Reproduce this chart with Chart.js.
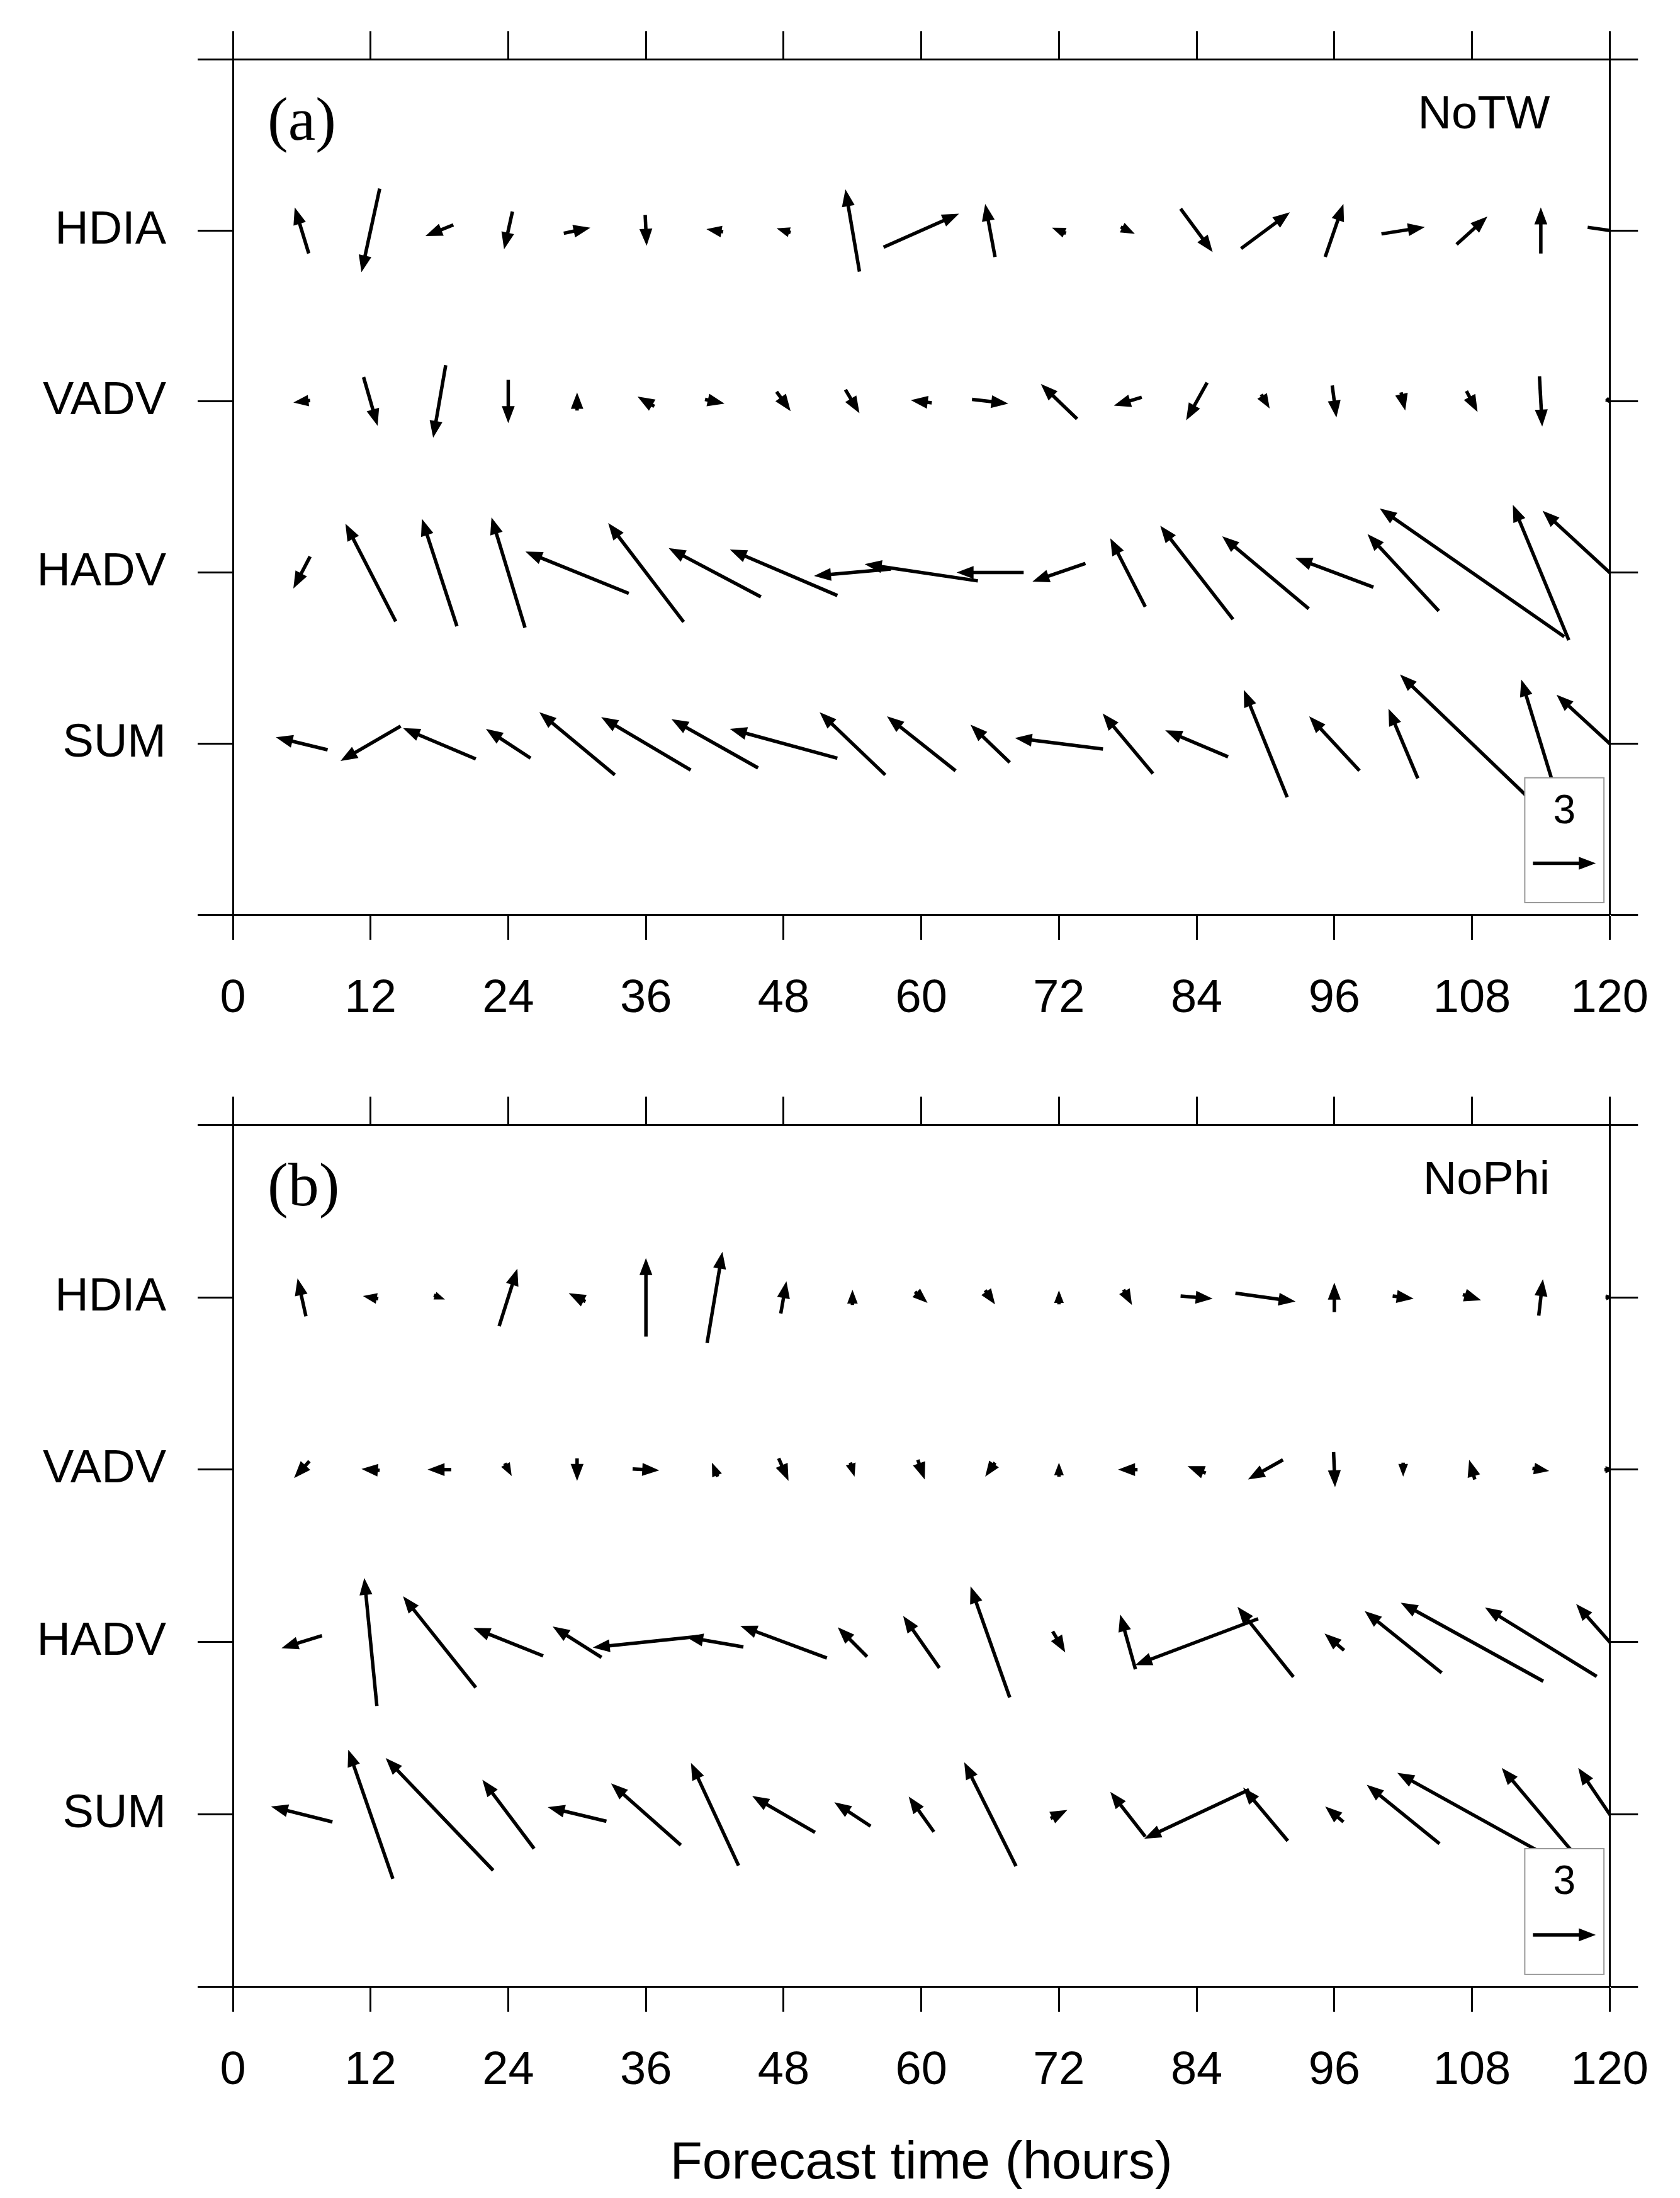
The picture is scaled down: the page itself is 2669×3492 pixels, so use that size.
<!DOCTYPE html>
<html><head><meta charset="utf-8">
<script src="https://cdn.jsdelivr.net/npm/chart.js@4.4.0/dist/chart.umd.min.js"></script>
<style>body{margin:0;background:#fff;width:2669px;height:3492px;overflow:hidden}
.c{position:absolute;left:0;width:2669px}</style></head><body>
<div class="c" style="top:0;height:1693px"><canvas id="a"></canvas></div>
<div class="c" style="top:1693px;height:1799px"><canvas id="b"></canvas></div>
<script>
const times=[6,12,18,24,30,36,42,48,54,60,66,72,78,84,90,96,102,108,114,120];
const rows=['SUM','HADV','VADV','HDIA'];
const xTicks=[0,12,24,36,48,60,72,84,96,108,120];
// panel (a) NoTW : u,v per term
const aHDIA_u=[-0.67,-0.87,-1.33,-0.4,1.27,0.07,-0.8,-0.67,-0.67,3.6,-0.47,-0.67,0.67,1.53,2.33,0.87,2.07,1.47,0,2.1];
const aHDIA_v=[2.2,-4,-0.53,-1.8,0.27,-1.47,0.13,0.2,3.93,1.6,2.53,0.27,-0.33,-2.07,1.73,2.53,0.33,1.33,2.2,-0.3];
const aVADV_u=[-0.8,0.67,-0.6,0,0,-0.8,0.93,0.67,0.67,-1.0,1.73,-1.73,-1.33,-1.0,0.4,0.2,0.2,0.53,0.13,0.3];
const aVADV_v=[-0.1,-2.33,-3.47,-2.07,0.87,0.47,-0.2,-0.93,-1.13,0.13,-0.2,1.67,-0.4,-1.8,-0.67,-1.53,-0.87,-1.0,-2.4,-0.3];
const aHADV_u=[-0.8,-2.4,-1.67,-1.6,-4.93,-3.6,-4.4,-5.13,-3.67,-5.4,-3.2,-2.53,-1.67,-3.47,-4.13,-3.73,-3.4,-8.8,-2.67,-6.4];
const aHADV_v=[-1.53,4.67,5.13,5.27,2.0,4.73,2.33,2.2,-0.33,0.8,0,-0.87,3.27,4.47,3.47,1.4,3.67,6.13,6.47,5.9];
const aSUM_u=[-2.47,-2.87,-3.47,-2.13,-3.6,-4.27,-4.13,-5.13,-3.13,-3.27,-1.87,-4.2,-2.4,-3.0,-2.07,-2.4,-1.4,-6.87,-1.87,-5.07];
const aSUM_v=[0.6,-1.67,1.47,1.4,3.0,2.53,2.33,1.4,3.0,2.6,1.8,0.53,2.87,1.27,5.13,2.6,3.33,6.6,6.13,4.67];
// panel (b) NoPhi
const bHDIA_u=[-0.4,-0.73,0.53,0.87,-0.8,0,0.73,0.27,0,0.6,0.47,0,0.4,1.53,2.87,0,1.0,0.87,0.2,0.4];
const bHDIA_v=[1.8,0.13,-0.2,2.73,0.4,3.73,4.33,1.53,0.73,-0.53,-0.67,0.67,-0.73,-0.13,-0.4,1.4,-0.13,-0.27,1.73,0];
const bVADV_u=[-0.73,-0.87,-1.13,0.33,0,1.27,-0.27,0.47,0.2,0.33,-0.47,0,-0.93,-0.87,-1.67,0.07,0,-0.27,0.8,0.5];
const bVADV_v=[-0.8,0.07,0,-0.6,-1.07,-0.07,0.67,-1.07,-0.67,-0.93,-0.67,0.67,0,0.33,-0.93,-1.67,-0.67,0.93,-0.13,0];
const bHADV_u=[-1.93,-0.6,-3.47,-3.33,-2.33,-5.07,-2.73,-4.13,-1.4,-1.73,-1.87,0.6,-0.73,-5.87,-2.67,-0.93,-3.67,-6.8,-5.33,-3.2];
const bHADV_v=[-0.6,6.07,4.33,1.33,1.47,-0.53,0.47,1.53,1.4,2.47,5.27,-1.0,2.6,-2.2,3.33,0.8,2.93,3.73,3.27,3.6];
const bSUM_u=[-2.93,-2.13,-5.13,-2.47,-2.8,-3.33,-2.27,-3.0,-1.73,-1.2,-2.47,0.8,-1.67,-5.0,-2.13,-0.87,-3.47,-7.13,-3.73,-3.0];
const bSUM_v=[0.73,6.13,5.33,3.27,0.67,2.93,4.87,1.73,1.13,1.67,4.93,0.4,2.13,-2.33,2.53,0.73,2.8,3.93,4.4,4.4];
const refMag=3;
const HOURS_PER_UNIT=1.827, YVAL_PER_UNIT=0.1223;

function arrow(ctx,x1,y1,x2,y2){
  const dx=x2-x1,dy=y2-y1,L=Math.hypot(dx,dy); if(L<1)return;
  const ux=dx/L,uy=dy/L,h=Math.min(27,L*0.9),w=h*0.38;
  ctx.beginPath();ctx.moveTo(x1,y1);ctx.lineTo(x2-ux*h*0.7,y2-uy*h*0.7);ctx.stroke();
  ctx.beginPath();ctx.moveTo(x2,y2);ctx.lineTo(x2-ux*h-uy*w,y2-uy*h+ux*w);
  ctx.lineTo(x2-ux*h+uy*w,y2-uy*h-ux*w);ctx.closePath();ctx.fill();
}
function make(id,series,label,name,bottomH,xtitle){
  const vecPlugin={id:'vec',afterDatasetsDraw(ch){
    const c=ch.ctx,xs=ch.scales.x,ys=ch.scales.y,A=ch.chartArea;
    c.save();c.beginPath();c.rect(A.left,A.top,A.right-A.left,A.bottom-A.top);c.clip();
    c.strokeStyle='#000';c.fillStyle='#000';c.lineWidth=5.5;c.lineCap='butt';
    series.forEach((s,ri)=>{const row=ri+1;
      times.forEach((t,i)=>{const u=s[0][i],v=s[1][i];
        const xa=xs.getPixelForValue(t-u*HOURS_PER_UNIT/2),xb=xs.getPixelForValue(t+u*HOURS_PER_UNIT/2);
        const ya=ys.getPixelForValue(row-v*YVAL_PER_UNIT/2),yb=ys.getPixelForValue(row+v*YVAL_PER_UNIT/2);
        arrow(c,xa,ya,xb,yb);});});
    c.restore();
    c.save();
    const bx1=xs.getPixelForValue(112.6),bx2=xs.getPixelForValue(119.5);
    const by1=ys.getPixelForValue(1.0-0.2),by2=ys.getPixelForValue(0.07);
    c.fillStyle='#fff';c.fillRect(bx1,by1,bx2-bx1,by2-by1);
    c.strokeStyle='#999';c.lineWidth=2;c.strokeRect(bx1,by1,bx2-bx1,by2-by1);
    c.fillStyle='#000';c.font='64px "Liberation Sans"';c.textAlign='center';c.textBaseline='middle';
    c.fillText(String(refMag),(bx1+bx2)/2,ys.getPixelForValue(0.6));
    const yr=ys.getPixelForValue(0.3),xm=(bx1+bx2)/2,half=(xs.getPixelForValue(refMag*HOURS_PER_UNIT)-xs.getPixelForValue(0))/2;
    c.strokeStyle='#000';c.lineWidth=5.5;arrow(c,xm-half,yr,xm+half,yr);
    c.font='98px "Liberation Serif"';c.textAlign='left';c.textBaseline='alphabetic';
    c.fillText(label,A.left+55,A.top+128);
    c.font='74px "Liberation Sans"';c.textAlign='right';
    c.fillText(name,A.right-95,A.top+110);
    c.restore();
  }};
  const tickFont={family:'Liberation Sans',size:74};
  return new Chart(document.getElementById(id),{type:'scatter',data:{datasets:[{data:[]}]},
    options:{responsive:true,maintainAspectRatio:false,animation:false,
      plugins:{legend:{display:false},tooltip:{enabled:false}},
      layout:{padding:0},
      scales:{
        x:{type:'linear',min:0,max:120,position:'bottom',afterBuildTicks(s){s.ticks=xTicks.map(v=>({value:v}));},
          grid:{drawOnChartArea:false,tickLength:40,tickWidth:3,color:'#000'},border:{color:'#000',width:3},
          ticks:{font:tickFont,color:'#000',padding:50,maxRotation:0},
          title:{display:!!xtitle,text:xtitle||'',font:{family:'Liberation Sans',size:84},color:'#000',padding:{top:60}},
          afterFit(s){s.height=bottomH;}},
        x2:{type:'linear',min:0,max:120,position:'top',afterBuildTicks(s){s.ticks=xTicks.map(v=>({value:v}));},
          grid:{drawOnChartArea:false,tickLength:45,tickWidth:3,color:'#000'},border:{color:'#000',width:3},
          ticks:{display:false},afterFit(s){s.height=79;}},
        y:{type:'linear',min:0,max:5,position:'left',afterBuildTicks(s){s.ticks=[0,1,2,3,4,5].map(v=>({value:v}));},
          grid:{drawOnChartArea:false,tickLength:56,tickWidth:3,color:'#000'},border:{color:'#000',width:3},
          ticks:{font:tickFont,color:'#000',padding:50,callback:v=>rows[v-1]||''},afterFit(s){s.width=370;}},
        y2:{type:'linear',min:0,max:5,position:'right',afterBuildTicks(s){s.ticks=[0,1,2,3,4,5].map(v=>({value:v}));},
          grid:{drawOnChartArea:false,tickLength:45,tickWidth:3,color:'#000'},border:{color:'#000',width:3},
          ticks:{display:false},afterFit(s){s.width=89;}}
      }},plugins:[vecPlugin]});
}
make('a',[[aSUM_u,aSUM_v],[aHADV_u,aHADV_v],[aVADV_u,aVADV_v],[aHDIA_u,aHDIA_v]],'(a)','NoTW',240,null);
make('b',[[bSUM_u,bSUM_v],[bHADV_u,bHADV_v],[bVADV_u,bVADV_v],[bHDIA_u,bHDIA_v]],'(b)','NoPhi',336,'Forecast time (hours)');
</script></body></html>
